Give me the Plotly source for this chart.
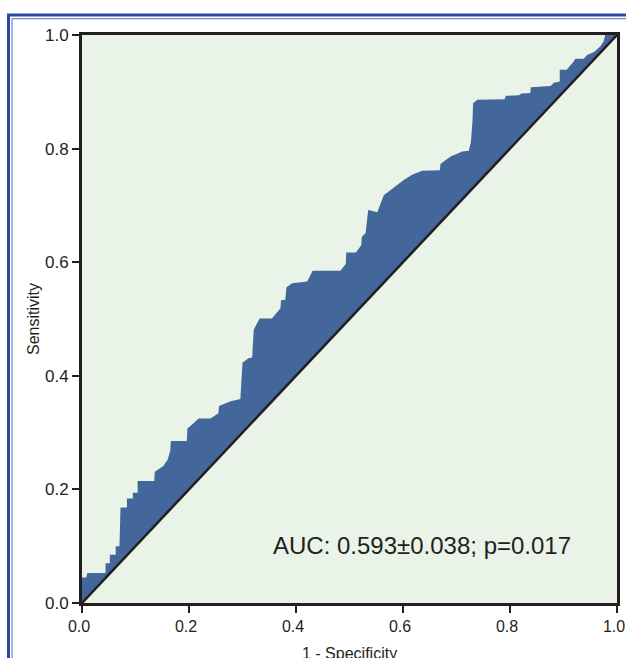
import plotly.graph_objects as go

# ROC curve points
fpr = [0, 0, 0.008, 0.010, 0.044, 0.044, 0.052, 0.052, 0.063, 0.063, 0.070, 0.072, 0.084, 0.084,
       0.095, 0.095, 0.104, 0.104, 0.135, 0.136, 0.152, 0.160, 0.165, 0.166, 0.196, 0.197, 0.208,
       0.218, 0.240, 0.255, 0.256, 0.278, 0.296, 0.300, 0.311, 0.318, 0.321, 0.332, 0.355, 0.371,
       0.372, 0.380, 0.382, 0.393, 0.421, 0.431, 0.483, 0.493, 0.494, 0.512, 0.522, 0.523, 0.530,
       0.535, 0.552, 0.558, 0.564, 0.577, 0.602, 0.617, 0.636, 0.669, 0.670, 0.689, 0.711, 0.723,
       0.727, 0.730, 0.731, 0.739, 0.790, 0.792, 0.817, 0.821, 0.838, 0.839, 0.876, 0.882, 0.893,
       0.893, 0.906, 0.918, 0.922, 0.938, 0.944, 0.957, 0.969, 0.975, 0.978, 1.0]
tpr = [0, 0.045, 0.045, 0.053, 0.053, 0.070, 0.070, 0.085, 0.085, 0.100, 0.100, 0.168, 0.168, 0.184,
       0.184, 0.194, 0.194, 0.215, 0.215, 0.231, 0.241, 0.252, 0.268, 0.285, 0.285, 0.307, 0.316,
       0.325, 0.325, 0.334, 0.347, 0.355, 0.359, 0.423, 0.431, 0.432, 0.481, 0.501, 0.501, 0.519,
       0.533, 0.534, 0.556, 0.563, 0.566, 0.585, 0.585, 0.597, 0.617, 0.617, 0.630, 0.645, 0.651,
       0.692, 0.688, 0.704, 0.718, 0.727, 0.745, 0.754, 0.761, 0.762, 0.773, 0.786, 0.795, 0.796,
       0.812, 0.850, 0.880, 0.886, 0.887, 0.893, 0.894, 0.897, 0.898, 0.908, 0.910, 0.916, 0.918,
       0.939, 0.939, 0.952, 0.958, 0.958, 0.965, 0.970, 0.980, 0.989, 1.0, 1.0]

ref_x = [0, 1]
ref_y = [0, 1]

tick_vals = [0, 0.2, 0.4, 0.6, 0.8, 1.0]
tick_text = ["0.0", "0.2", "0.4", "0.6", "0.8", "1.0"]

x_title = "1 - Specificity"
y_title = "Sensitivity"
auc_text = "AUC: 0.593±0.038; p=0.017"

FONT = "Liberation Sans, Arial, sans-serif"
FILL = "rgb(67,103,154)"
BG = "rgb(233,243,231)"
AX = "#231f20"

fig = go.Figure()
fig.add_trace(go.Scatter(x=ref_x, y=ref_y, mode="lines", line=dict(width=0, color=AX),
                         hoverinfo="skip", showlegend=False))
fig.add_trace(go.Scatter(x=fpr, y=tpr, mode="lines", line=dict(width=0, color=FILL),
                         fill="tonexty", fillcolor=FILL, showlegend=False))
fig.add_trace(go.Scatter(x=ref_x, y=ref_y, mode="lines", line=dict(width=2.5, color=AX),
                         showlegend=False))

L, R, T, B = 82, 9, 35, 55
W, H = 626, 658
pw, ph = W - L - R, H - T - B

def px2x(p):
    return (p - L) / pw

def py2y(p):
    return (H - B - p) / ph

axis_common = dict(range=[0, 1], showgrid=False, zeroline=False, showline=True, linewidth=3,
                   linecolor=AX, mirror=True, ticks="outside", ticklen=7, tickwidth=2,
                   tickcolor=AX, tickvals=tick_vals, ticktext=tick_text, automargin=False,
                   ticklabeloverflow="allow")

fig.update_layout(
    width=W, height=H, autosize=False,
    margin=dict(l=L, r=R, t=T, b=B),
    paper_bgcolor="white",
    plot_bgcolor=BG,
    xaxis=dict(**axis_common, ticklabelshift=-3,
               tickfont=dict(family=FONT, size=16, color="#231f20")),
    yaxis=dict(**axis_common, tickfont=dict(family=FONT, size=17, color="#231f20")),
    shapes=[
        dict(type="rect", xref="paper", yref="paper", x0=px2x(8.5), x1=px2x(700), y0=py2y(700),
             y1=py2y(15), line=dict(color="rgb(44,72,158)", width=3), layer="below"),
        dict(type="rect", xref="paper", yref="paper", x0=px2x(12), x1=px2x(700), y0=py2y(700),
             y1=py2y(18.7), line=dict(color="rgb(80,105,185)", width=1), layer="below"),
    ],
    annotations=[
        dict(text=auc_text, x=0.635, y=0.102, xref="x", yref="y", showarrow=False,
             font=dict(family=FONT, size=24, color="#231f20")),
        dict(text=x_title, x=0.5, y=py2y(653), xref="paper", yref="paper", showarrow=False,
             font=dict(family=FONT, size=16, color="#231f20"), yanchor="middle"),
        dict(text=y_title, x=px2x(33), y=0.5, xref="paper", yref="paper", showarrow=False,
             textangle=-90, font=dict(family=FONT, size=16, color="#231f20"), xanchor="center"),
    ],
)

fig.write_html("out.html", config={"displayModeBar": False, "responsive": False})

# remove the browser's default page margin so the figure sits at the top-left corner
with open("out.html", encoding="utf-8") as f:
    html = f.read()
html = html.replace("<head>", "<head><style>html,body{margin:0;padding:0;overflow:hidden}</style>", 1)
with open("out.html", "w", encoding="utf-8") as f:
    f.write(html)
